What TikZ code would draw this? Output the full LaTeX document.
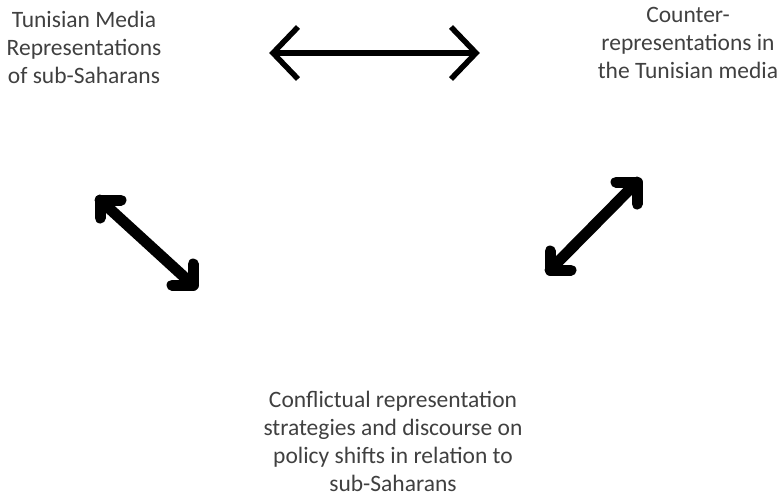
\documentclass[tikz,border=0pt]{standalone}
\usepackage{fontspec}
\setmainfont{Carlito}
\begin{document}
\begin{tikzpicture}[x=1pt,y=-1pt,
  label text/.style={text=textgray, align=center, inner sep=0pt, anchor=north,
    font=\fontsize{23.5}{28}\selectfont},
  thin arrow/.style={draw=black, line width=5.5pt, line cap=butt, line join=miter},
  thick arrow/.style={draw=black, line width=11pt, line cap=round, line join=round}]
\definecolor{textgray}{HTML}{404040}
\useasboundingbox (0,0) rectangle (784,498);

% the three themes
\node[label text] (media) at (84,11) {Tunisian Media\\Representations\\of sub-Saharans};
\node[label text] (counter) at (688,7) {Counter-\\representations in\\the Tunisian media};
\node[label text] (policy) at (393,391) {Conflictual representation\\strategies and discourse on\\policy shifts in relation to\\sub-Saharans};

% two-way link between the top themes
\coordinate (hl) at (273,53);
\coordinate (hr) at (476,53);
\draw[thin arrow] (hl) -- (hr);
\draw[thin arrow] ([shift={(25,-26)}]hl) -- (hl) -- ([shift={(25,26)}]hl);
\draw[thin arrow] ([shift={(-25,-26)}]hr) -- (hr) -- ([shift={(-25,26)}]hr);

% two-way link, left theme to bottom theme
\coordinate (la) at (100,200);
\coordinate (lb) at (193,285);
\draw[thick arrow] (la) -- (lb);
\draw[thick arrow] ([shift={(21,0)}]la) -- (la) -- ([shift={(0,18)}]la);
\draw[thick arrow] ([shift={(-21,0)}]lb) -- (lb) -- ([shift={(0,-21)}]lb);

% two-way link, right theme to bottom theme
\coordinate (ra) at (637,182);
\coordinate (rb) at (550,270);
\draw[thick arrow] (ra) -- (rb);
\draw[thick arrow] ([shift={(-21,0)}]ra) -- (ra) -- ([shift={(0,22)}]ra);
\draw[thick arrow] ([shift={(0,-19)}]rb) -- (rb) -- ([shift={(21,0)}]rb);
\end{tikzpicture}
\end{document}
